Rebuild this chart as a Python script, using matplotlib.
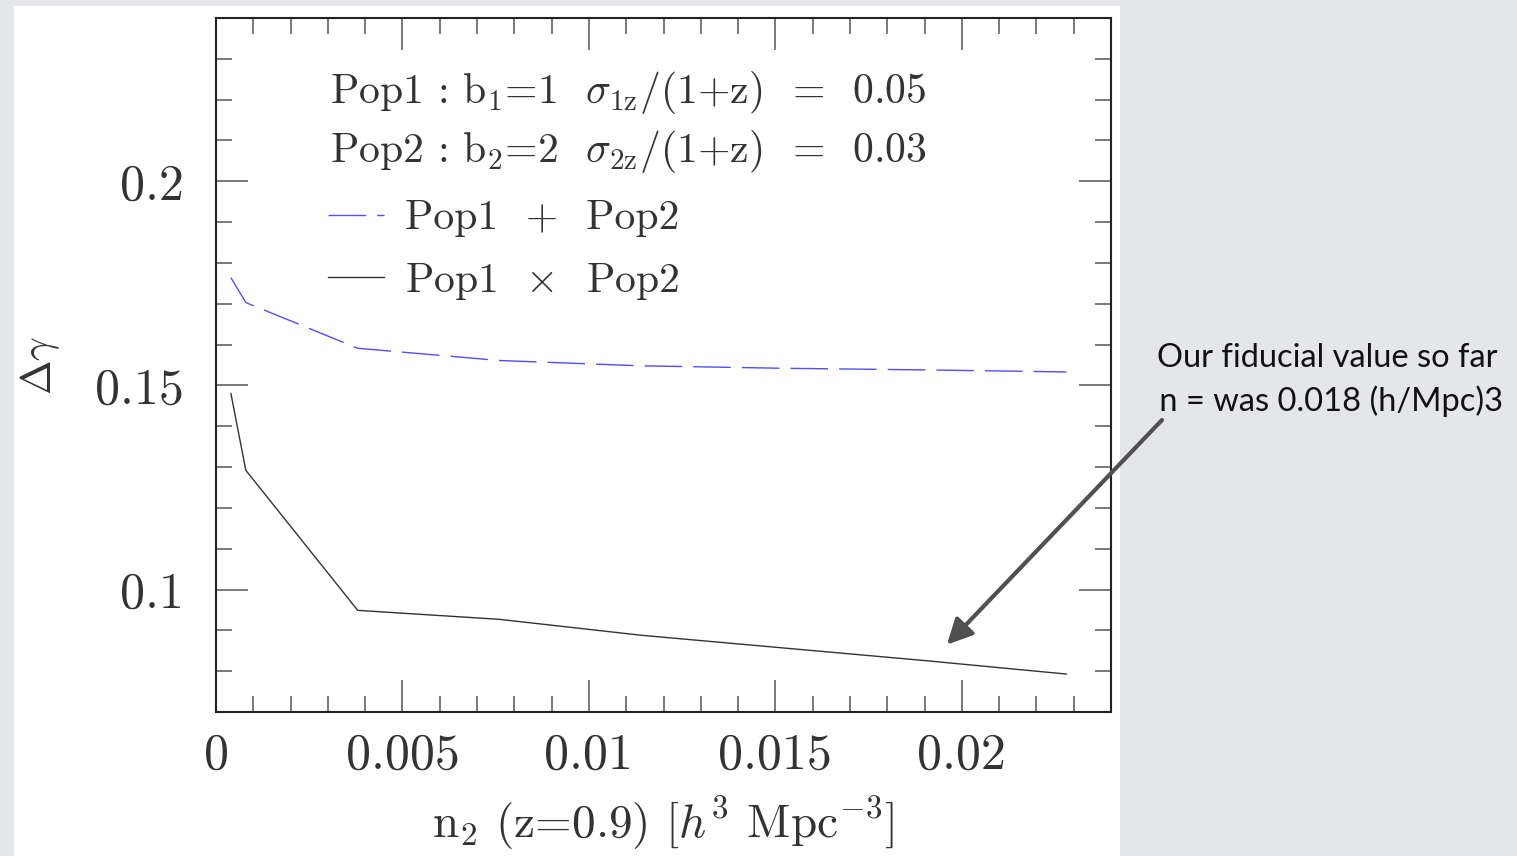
from matplotlib import pyplot as plt
from matplotlib.patches import Rectangle
from matplotlib.ticker import MultipleLocator, FuncFormatter

# number density of the second population, n2 (z=0.9) [h^3 Mpc^-3]
n2 = [0.0004, 0.0008, 0.0038, 0.0076, 0.0114, 0.0152, 0.0190, 0.0228]
# error on gamma for the two combinations
dgamma_sum = [0.1764, 0.1703, 0.1591, 0.1561, 0.1548, 0.1542, 0.1538, 0.1533]
dgamma_cross = [0.1480, 0.1292, 0.0949, 0.0927, 0.0888, 0.0857, 0.0826, 0.0793]

pop_lines = [r"Pop1 : b$_1$=1  $\sigma_{\rm 1z}$/(1+z)  =  0.05",
             r"Pop2 : b$_2$=2  $\sigma_{\rm 2z}$/(1+z)  =  0.03"]
fiducial_n = 0.0196
fiducial_dg = 0.0865
note = "Our fiducial value so far\n n = was 0.018 (h/Mpc)3"

plt.rcParams['font.family'] = 'serif'
plt.rcParams['font.serif'] = ['cmr10']
plt.rcParams['mathtext.fontset'] = 'cm'
plt.rcParams['axes.formatter.use_mathtext'] = True
ink = '#333333'

fig = plt.figure(figsize=[15.17, 8.56], dpi=100)
fig.patch.set_facecolor('#e4e6e9')
fig.patches.append(Rectangle((14 / 1517, 0), (1120 - 14) / 1517, 1 - 6 / 856,
                             transform=fig.transFigure, facecolor='white',
                             edgecolor='none', zorder=-5))

ax = fig.add_axes([216 / 1517, 1 - 712 / 856, (1111 - 216) / 1517, (712 - 18) / 856])
ax.set_facecolor('white')

ax.plot(n2, dgamma_sum, color='#4f4fff', lw=1.0, dashes=(27, 8), label="Pop1  +  Pop2")
ax.plot(n2, dgamma_cross, color=ink, lw=1.0, label=r"Pop1  $\times$  Pop2")

ax.set_xlim(0, 0.024)
ax.set_ylim(0.07, 0.24)
ax.xaxis.set_major_locator(MultipleLocator(0.005))
ax.xaxis.set_minor_locator(MultipleLocator(0.001))
ax.yaxis.set_major_locator(MultipleLocator(0.05))
ax.yaxis.set_minor_locator(MultipleLocator(0.01))
fmt = FuncFormatter(lambda v, pos: '%g' % round(v, 6))
ax.xaxis.set_major_formatter(fmt)
ax.yaxis.set_major_formatter(fmt)

ax.tick_params(which='both', direction='in', top=True, right=True,
               color='#555555', width=1.1, labelcolor=ink, labelsize=36)
ax.tick_params(which='major', length=23)
ax.tick_params(which='minor', length=11.5)
ax.tick_params(axis='y', pad=23)
ax.tick_params(axis='x', pad=15)
for s in ax.spines.values():
  s.set_linewidth(1.5)
  s.set_color('#222222')

ax.set_xlabel(r"n$_2$ (z=0.9) [$h^3$ Mpc$^{-3}$]", fontsize=34, color=ink, labelpad=11)
ax.set_ylabel(r"$\Delta\gamma$", fontsize=30, color=ink, labelpad=24)

for i, t in enumerate(pop_lines):
  ax.text(0.127, [0.893, 0.808][i], t, transform=ax.transAxes, fontsize=30,
          color=ink, va='center', ha='left')

ax.legend(loc='upper left', bbox_to_anchor=(0.083, 0.792), frameon=False,
          fontsize=30, handlelength=1.35, handletextpad=0.5, labelspacing=0.56,
          labelcolor=ink)

ax.annotate('', xy=(fiducial_n, fiducial_dg), xycoords='data',
            xytext=(1162 / 1517, 1 - 420 / 856), textcoords='figure fraction',
            arrowprops=dict(arrowstyle='-|>,head_length=0.9,head_width=0.45',
                            mutation_scale=17, lw=3, color='#505050',
                            shrinkA=0, shrinkB=0),
            annotation_clip=False)
fig.text(1327 / 1517, 1 - 380 / 856, note, family='Lato', fontsize=23.5,
         color='#111111', ha='center', va='center', multialignment='center',
         linespacing=1.45)

fig.savefig('out.png', dpi=100, facecolor=fig.get_facecolor())
